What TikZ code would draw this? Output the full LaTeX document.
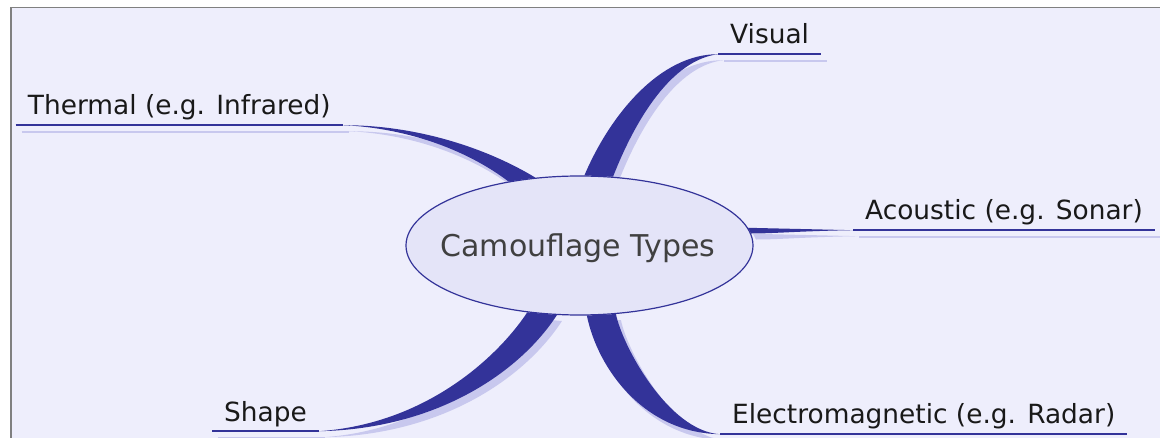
\documentclass[tikz,border=0pt]{standalone}
\usepackage{fontspec}
\setmainfont{DejaVu Sans}
\usetikzlibrary{shapes.geometric,backgrounds}
\definecolor{ink}{HTML}{333399}
\definecolor{haze}{HTML}{C8C8EE}
\definecolor{paper}{HTML}{EEEEFC}
\definecolor{bubble}{HTML}{E4E4F8}
\tikzset{
  hub/.style = {ellipse, draw=ink, line width=1.2pt, fill=bubble,
    minimum width=347pt, minimum height=139pt, inner sep=0pt},
  tag/.style = {anchor=base west, inner xsep=12pt, inner ysep=4pt, text depth=6pt,
    text=black!90, font=\fontsize{26.4}{30}\selectfont},
  twig/.style = {fill=ink, preaction={fill=haze, transform canvas={shift={(5,6)}}}},
  stem/.style = {draw=ink, line width=1.5pt,
    preaction={draw=haze, line width=1.5pt, transform canvas={shift={(6,7)}}}}
}

\begin{document}
\begin{tikzpicture}[x=1pt,y=-1pt]
  \useasboundingbox (0,0) rectangle (1160,438);
  \node[hub] (hub) at (579.5,245.5) {};
  \node[anchor=base, text=black!75, font=\fontsize{30}{36}\selectfont] (title) at (578,257) {Camouflage Types};
  \node[tag] (thermal) at (15.7,115) {Thermal (e.g. Infrared)};
  \node[tag] (visual) at (718,44) {Visual};
  \node[tag] (acoustic) at (853,220) {Acoustic (e.g. Sonar)};
  \node[tag] (em) at (720,424) {Electromagnetic (e.g. Radar)};
  \node[tag] (shape) at (212,421) {Shape};
  \begin{scope}[on background layer]
    \fill[white] (0,0) rectangle (1160,438);
    \fill[paper] (11,7.3) rectangle (1160,438);
    \draw[gray, line width=1.5pt] (1160,7.3) -- (11,7.3) -- (11,438);
    % underlines
    \draw[stem] (thermal.south west) -- (thermal.south east);
    \draw[stem] (visual.south west) -- (visual.south east);
    \draw[stem] (acoustic.south west) -- (acoustic.south east);
    \draw[stem] (em.south west) -- (em.south east);
    \draw[stem] (shape.south west) -- (shape.south east);
    % branches
    \fill[twig] (hub.123) .. controls (490,150) and (420,125) .. (thermal.south east)
      .. controls (410,128) and (470,152) .. (hub.138) -- cycle;
    \fill[twig] (hub.86) .. controls (610,115) and (660,54) .. (visual.south west)
      .. controls (672,60) and (636,118) .. (hub.64) -- cycle;
    \fill[twig] (hub.6) -- (acoustic.south west)
      .. controls (800,231) and (775,233.5) .. (hub.4) -- cycle;
    \fill[twig] (hub.-84) .. controls (598,370) and (645,433) .. (em.south west)
      .. controls (668,431) and (622,345) .. (hub.-62) -- cycle;
    \fill[twig] (hub.232) .. controls (497,358) and (425,424) .. (shape.south east)
      .. controls (437,429) and (520,372) .. (hub.252) -- cycle;
  \end{scope}
\end{tikzpicture}
\end{document}
